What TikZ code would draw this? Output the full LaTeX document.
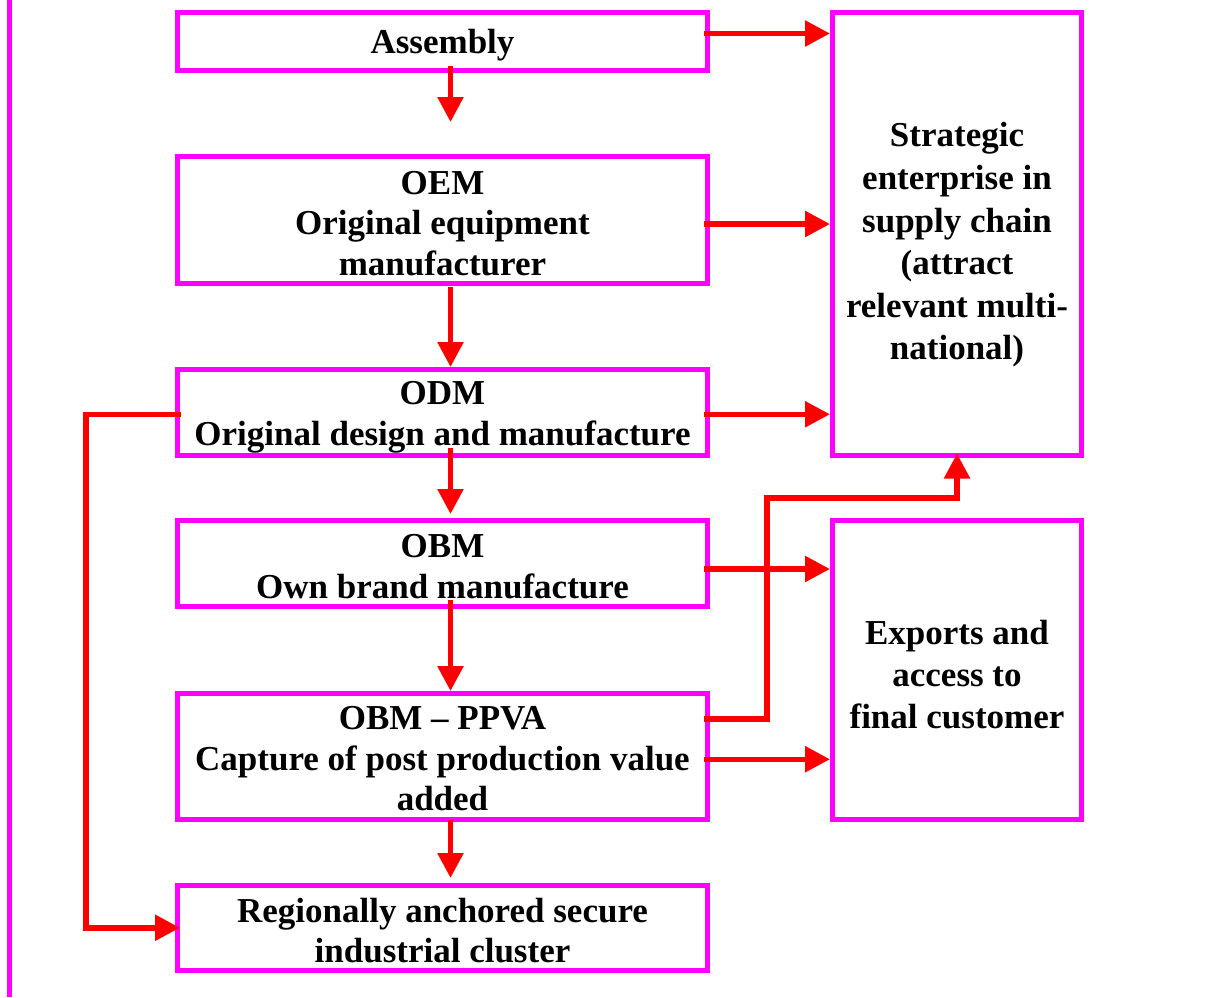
\documentclass[tikz,border=0pt]{standalone}
\usepackage{fontspec}
\setmainfont{Liberation Serif}
\usetikzlibrary{arrows.meta,calc}
\definecolor{boxmag}{RGB}{255,0,255}
\definecolor{arrred}{RGB}{255,0,0}
\begin{document}
\begin{tikzpicture}[x=0.5pt,y=-0.5pt,
  box/.style={draw=boxmag, line width=2.5pt, inner sep=0pt},
  txt/.style={align=center, inner sep=0pt,
    font=\bfseries\fontsize{17.5}{20.25}\selectfont},
  flow/.style={draw=arrred, line width=2.75pt,
    -{Triangle[length=12.5pt,width=12.5pt]}},
  ]
\useasboundingbox (0,0) rectangle (1213,997);

% margin rule on the left
\draw[boxmag, line width=2.5pt] (9.5,0) -- (9.5,997);

% stages of the upgrading ladder
\node[box, minimum width=265pt, minimum height=29pt]    (asm)  at (442.5,41.5)   {};
\node[box, minimum width=265pt, minimum height=63.5pt]  (oem)  at (442.5,220)    {};
\node[box, minimum width=265pt, minimum height=42.75pt] (odm)  at (442.5,412.25) {};
\node[box, minimum width=265pt, minimum height=43pt]    (obm)  at (442.5,563.5)  {};
\node[box, minimum width=265pt, minimum height=62.75pt] (ppva) at (442.5,756.25) {};
\node[box, minimum width=265pt, minimum height=42.75pt] (reg)  at (442.5,927.75) {};

\node[txt] (asmtext)  at ($(asm)+(0,4)$)  {Assembly};
\node[txt] (oemtext)  at ($(oem)+(0,3.5)$)  {OEM\\Original equipment\\manufacturer};
\node[txt] (odmtext)  at ($(odm)+(0,5)$)  {ODM\\Original design and manufacture};
\node[txt] (obmtext)  at ($(obm)+(0,3)$)  {OBM\\Own brand manufacture};
\node[txt] (ppvatext) at ($(ppva)+(0,2.5)$) {OBM -- PPVA\\Capture of post production value\\added};
\node[txt] (regtext)  at ($(reg)+(0,3)$)  {Regionally anchored secure\\industrial cluster};

% outcomes on the right
\node[box, minimum width=124.5pt, minimum height=221.25pt] (strat) at (957,233.75) {};
\node[txt, font=\bfseries\fontsize{17.5}{21.3}\selectfont]
      (strattext) at (957,245) {Strategic\\enterprise in\\supply chain\\(attract\\relevant multi-\\national)};
\node[box, minimum width=124.5pt, minimum height=149.5pt] (exp) at (957,669.5) {};
\node[txt, font=\bfseries\fontsize{17.5}{21}\selectfont]
      (exptext) at (957,674.5) {Exports and\\access to\\final customer};

% horizontal links to the outcomes
\coordinate (h1) at ($(asm.east)+(-6,-8)$);
\coordinate (h2) at ($(oem.east)+(-6,4)$);
\coordinate (h3) at ($(odm.east)+(-6,2)$);
\coordinate (h4) at ($(obm.east)+(-6,5.5)$);
\coordinate (h5) at ($(ppva.east)+(-6,3)$);
\coordinate (h6) at ($(ppva.east)+(-6,-37.25)$);
\draw[flow] (h1) -- (h1 -| strat.west);
\draw[flow] (h2) -- (h2 -| strat.west);
\draw[flow] (h3) -- (h3 -| strat.west);
\draw[flow] (h4) -- (h4 -| exp.west);
\draw[flow] (h5) -- (h5 -| exp.west);

% PPVA also feeds the strategic enterprise
\coordinate (bend) at (767,498);
\draw[flow] (h6) -| (bend) -| ($(strat.south)+(0,-4)$);

% vertical steps down the ladder
\coordinate (vx) at (450.5,0);
\coordinate (t1) at (450.5,122);
\coordinate (t3) at (450.5,514);
\coordinate (t5) at (450.5,878);
\draw[flow] ($(vx |- asm.south)+(0,-7)$) -- (t1);
\draw[flow] ($(vx |- oem.south)+(0,1)$) -- (vx |- odm.north);
\draw[flow] ($(vx |- odm.south)+(0,-10)$) -- (t3);
\draw[flow] ($(vx |- obm.south)+(0,-9)$) -- (vx |- ppva.north);
\draw[flow] ($(vx |- ppva.south)+(0,-2)$) -- (t5);

% feedback from ODM down to the regional cluster
\coordinate (fb) at ($(odm.west)+(6,2)$);
\coordinate (fbx) at (86,0);
\draw[flow] (fb) -| (fbx |- reg.west) -- ($(reg.west)+(5,0)$);
\end{tikzpicture}
\end{document}
